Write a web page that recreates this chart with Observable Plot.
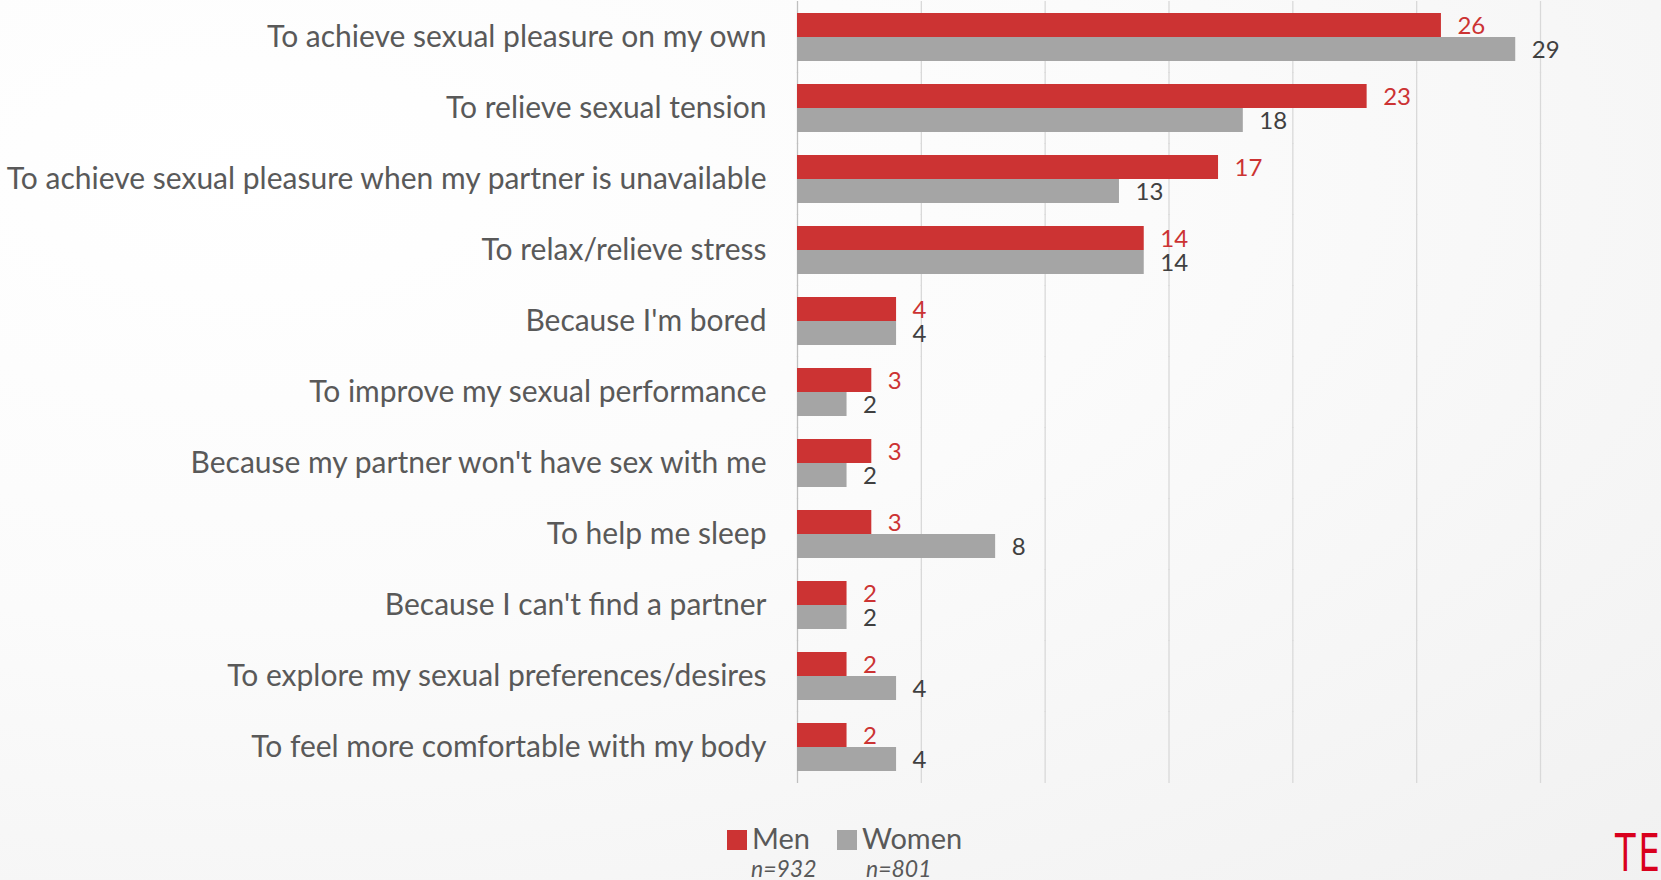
<!DOCTYPE html>
<html>
<head>
<meta charset="utf-8">
<script src="https://cdn.jsdelivr.net/npm/d3@7"></script>
<script src="https://cdn.jsdelivr.net/npm/@observablehq/plot@0.6"></script>
<style>
  html, body { margin: 0; padding: 0; }
  body {
    width: 1661px; height: 880px; overflow: hidden; position: relative;
    background: radial-gradient(ellipse at 15% 20%, #ffffff 0%, #fbfbfb 45%, #f1f1f1 100%);
    font-family: Lato, "Open Sans", sans-serif;
  }
  #chart { position: absolute; left: 0; top: 0; }
  .lg { position: absolute; color: #595959; white-space: nowrap; }
  .sw { position: absolute; width: 20px; height: 20px; }
  #logo { position: absolute; left: 1615px; top: 827px; color: #d9001d; font-family: "DejaVu Sans Condensed", "Liberation Sans Narrow", sans-serif; font-size: 52px; line-height: 1; transform: scaleX(0.72); transform-origin: left top; letter-spacing: 4px; }
</style>
</head>
<body>
<div id="chart"></div>
<div class="sw" style="left:727px;top:830px;background:#cc3333"></div>
<div class="lg" style="left:752px;top:820px;font-size:29px">Men</div>
<div class="sw" style="left:837px;top:830px;background:#a5a5a5"></div>
<div class="lg" style="left:862px;top:820px;font-size:29px">Women</div>
<div class="lg" style="left:751px;top:854px;font-size:23px;font-style:italic">n=932</div>
<div class="lg" style="left:866px;top:854px;font-size:23px;font-style:italic">n=801</div>
<div id="logo">TE</div>
<script>
const categories = [
  "To achieve sexual pleasure on my own",
  "To relieve sexual tension",
  "To achieve sexual pleasure when my partner is unavailable",
  "To relax/relieve stress",
  "Because I'm bored",
  "To improve my sexual performance",
  "Because my partner won't have sex with me",
  "To help me sleep",
  "Because I can't find a partner",
  "To explore my sexual preferences/desires",
  "To feel more comfortable with my body"
];
const series = ["Men", "Women"];
const men   = [26, 23, 17, 14, 4, 3, 3, 3, 2, 2, 2];
const women = [29, 18, 13, 14, 4, 2, 2, 8, 2, 4, 4];
const gridValues = [0, 5, 10, 15, 20, 25, 30];

const data = [];
categories.forEach((c, i) => {
  data.push({category: c, gender: "Men", value: men[i]});
  data.push({category: c, gender: "Women", value: women[i]});
});

const colors = {Men: "#cc3333", Women: "#a5a5a5"};
const labelColors = {Men: "#cc3333", Women: "#404040"};

const chart = Plot.plot({
  width: 1661,
  height: 784,
  marginLeft: 797,
  marginRight: 121,
  marginTop: 0,
  marginBottom: 0,
  style: {background: "transparent", fontSize: "30px", fontFamily: "Lato, 'Open Sans', sans-serif", color: "#595959", overflow: "visible"},
  x: {domain: [0, 30], axis: null},
  y: {domain: series, axis: null, padding: 0},
  fy: {domain: categories, paddingInner: 0.33, paddingOuter: 0.165, axis: "left", tickSize: 0, tickPadding: 31, label: null},
  marks: [
    Plot.ruleX(gridValues.slice(1), {stroke: "#d9d9d9", strokeWidth: 1.3, insetTop: -12, insetBottom: -12}),
    Plot.ruleX(gridValues.slice(0, 1), {stroke: "#bfbfbf", strokeWidth: 1.3, insetTop: -12, insetBottom: -12}),
    Plot.barX(data, {x: "value", y: "gender", fy: "category", fill: d => colors[d.gender]}),
    Plot.text(data, {x: "value", y: "gender", fy: "category", text: d => String(d.value),
      dx: 16, dy: 1, textAnchor: "start", fontSize: 24, fill: d => labelColors[d.gender]})
  ]
});
document.getElementById("chart").appendChild(chart);
</script>
</body>
</html>
